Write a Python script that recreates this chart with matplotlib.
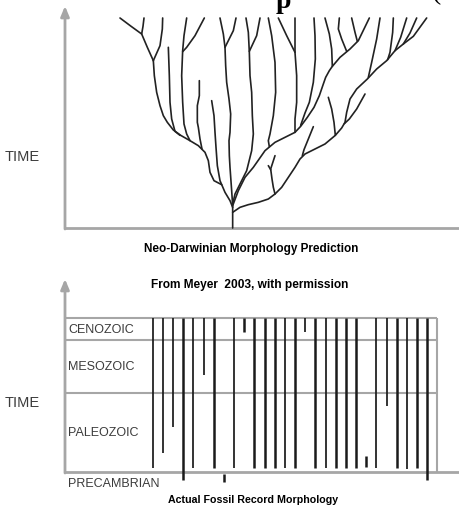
import matplotlib
matplotlib.use('Agg')
import matplotlib.pyplot as plt

# ---------------- DATA ----------------
# Top panel: predicted branching tree, each path is (morphology, time) points
left_clade = [
    [(180, 630), (212, 606), (245, 582), (262, 542), (280, 502)],
    [(252, 630), (249, 605), (245, 582)],
    [(308, 630), (307, 597), (300, 547), (280, 502)],
    [(280, 502), (283, 457), (290, 407), (300, 367), (310, 337), (322, 317), (340, 294),
     (362, 278), (390, 262), (415, 247), (435, 227), (445, 202), (450, 167), (462, 142), (485, 130)],
    [(325, 542), (328, 457), (330, 377), (335, 327), (345, 290), (360, 278)],
    [(380, 630), (372, 577), (368, 532), (365, 457), (368, 377), (372, 312), (380, 282), (390, 262)],
    [(433, 630), (405, 577), (380, 542), (368, 529)],
    [(418, 442), (418, 397), (412, 367), (412, 317), (415, 302), (420, 267), (426, 237)],
    [(455, 382), (462, 337), (465, 287), (468, 242), (472, 187), (480, 142), (495, 107), (510, 82), (518, 62)],
]
central_clade = [
    [(480, 630), (490, 582), (495, 542), (497, 487), (500, 437), (507, 387), (512, 342), (510, 287),
     (507, 262), (508, 217), (510, 182), (515, 112), (518, 67), (518, 0)],
    [(528, 630), (520, 592), (505, 562), (495, 542)],
    [(558, 630), (565, 587), (568, 527), (570, 457), (575, 407), (577, 337), (580, 282), (575, 232),
     (560, 172), (540, 132), (525, 102), (518, 72)],
    [(600, 630), (590, 577), (568, 530)],
]
upper_right_clade = [
    [(518, 67), (535, 112), (555, 152), (580, 182), (615, 232), (645, 257), (675, 272), (705, 287),
     (722, 305), (742, 332), (762, 362), (778, 397), (790, 432), (797, 452), (808, 472), (817, 485),
     (840, 512), (870, 537), (895, 562), (928, 630)],
    [(625, 630), (635, 577), (645, 497), (647, 407), (640, 337), (630, 282), (625, 262), (628, 244)],
    [(655, 630), (680, 577), (705, 527)],
    [(705, 630), (705, 527), (710, 457), (710, 377), (705, 327), (705, 287)],
    [(762, 630), (765, 577), (766, 507), (760, 437), (748, 377), (735, 345), (722, 308)],
    [(795, 630), (808, 582), (815, 537), (817, 485)],
    [(838, 630), (835, 597), (845, 567), (860, 530)],
    [(875, 630), (885, 587), (892, 560)],
]
lower_right_clade = [
    [(518, 47), (540, 62), (565, 70), (595, 77), (625, 87), (645, 102), (665, 122), (685, 152), (705, 182),
     (720, 207), (735, 222), (765, 237), (795, 252), (826, 278), (845, 300), (855, 317), (860, 347),
     (870, 387), (890, 417), (922, 447), (950, 477), (980, 502), (1005, 532), (1030, 552), (1060, 575),
     (1100, 630)],
    [(1005, 532), (1022, 572), (1040, 630)],
    [(1030, 552), (1050, 585), (1070, 630)],
    [(960, 630), (950, 567), (935, 497), (925, 452)],
    [(1000, 630), (998, 587), (990, 527), (983, 505)],
    [(645, 217), (632, 177), (636, 147), (640, 122), (645, 102)],
    [(625, 187), (632, 175)],
    [(760, 304), (745, 267), (732, 235), (727, 217)],
    [(805, 392), (815, 357), (822, 317), (826, 278)],
    [(915, 402), (890, 357), (868, 327), (853, 313)],
]

# Bottom panel: fossil record ranges per lineage (time units, 0 = base of Cambrian)
lineage = list(range(28))
range_top = [154, 154, 154, 154, 154, 154, 154, -2, 154, 154, 154, 154, 154, 154,
             154, 154, 154, 154, 154, 154, 154, 16.3, 154, 154, 154, 154, 154, 154]
range_bottom = [4.5, 18.7, 45.3, -8, 4.5, 97, 4.5, -9.7, 4.5, 139.7, 4.5, 4.5, 4.5, 4.5,
                4.5, 140, 4.5, 4.5, 4.5, 4.5, 4.5, 4.7, 4.5, 66.3, 4.5, 3, 4.5, -8]
bar_heavy = [0, 0, 0, 1, 0, 0, 1, 1, 0, 1, 1, 1, 1, 0,
             1, 0, 1, 0, 1, 1, 1, 1, 0, 0, 1, 0, 1, 1]
era_names = ['CENOZOIC', 'MESOZOIC', 'PALEOZOIC', 'PRECAMBRIAN']
era_bounds = [154, 132.5, 79, 0, -22]

# ---------------- FIGURE ----------------
W, H = 459, 506
fig = plt.figure(figsize=(W / 100, H / 100), dpi=100)
fig.patch.set_facecolor('white')
SANS = ['Liberation Sans', 'DejaVu Sans']
GRAY = '#a6a6a6'
INK = '#222222'


def fx(px):
    return px / W


def fy(py):
    return 1 - py / H


# ---- top panel ----
ax1 = fig.add_axes([fx(65), fy(229), fx(460) - fx(65), fy(7) - fy(229)])
ax1.set_xlim(15, 1200)
ax1.set_ylim(0, 666)
ax1.axis('off')
ax1.plot([15, 1200], [0, 0], color=GRAY, lw=2.0, clip_on=False, solid_capstyle='butt', zorder=1)
ax1.annotate('', xy=(15, 666), xytext=(15, -3),
             arrowprops=dict(arrowstyle='-|>,head_length=0.6,head_width=0.25', color=GRAY, lw=2.0,
                             shrinkA=0, shrinkB=0), annotation_clip=False)
for clade in (left_clade, central_clade, upper_right_clade, lower_right_clade):
    for path in clade:
        xs = [p[0] for p in path]
        ys = [p[1] for p in path]
        ax1.plot(xs, ys, color=INK, lw=1.2, solid_capstyle='round', solid_joinstyle='round',
                 clip_on=False, zorder=2)

# ---- bottom panel ----
ax2 = fig.add_axes([fx(65), fy(490), fx(460) - fx(65), fy(280) - fy(490)])
x0, x1 = -8.623, 30.216
xbox = 27.95
ax2.set_xlim(x0, x1)
ax2.set_ylim(-17, 193)
ax2.axis('off')
ax2.hlines(era_bounds[:3], x0, xbox, color=GRAY, lw=1.5, zorder=1)
ax2.vlines(xbox, 0, era_bounds[0], color=GRAY, lw=1.5, zorder=1)
ax2.plot([x0, x1], [0, 0], color=GRAY, lw=2.0, clip_on=False, solid_capstyle='butt', zorder=1)
ax2.annotate('', xy=(x0, 193), xytext=(x0, -1),
             arrowprops=dict(arrowstyle='-|>,head_length=0.6,head_width=0.25', color=GRAY, lw=2.0,
                             shrinkA=0, shrinkB=0), annotation_clip=False)
widths = [1.8 if h else 1.25 for h in bar_heavy]
ax2.vlines(lineage, range_bottom, range_top, colors='#1a1a1a', linewidths=widths, zorder=3,
           capstyle='butt')
for name, hi, lo in zip(era_names, era_bounds[:-1], era_bounds[1:]):
    ax2.text(x0 + 0.29, (hi + lo) / 2, name, ha='left', va='center', fontsize=9.0,
             color='#3c3c3c', family=SANS)

# ---- texts ----
fig.text(fx(5), fy(157), 'TIME', ha='left', va='center', fontsize=10.5, color='#3c3c3c', family=SANS)
fig.text(fx(5), fy(403), 'TIME', ha='left', va='center', fontsize=10.5, color='#3c3c3c', family=SANS)
fig.text(fx(251), fy(249), 'Neo-Darwinian Morphology Prediction', ha='center', va='center',
         fontsize=8.5, weight='bold', family=SANS)
fig.text(fx(250), fy(285), 'From Meyer  2003, with permission', ha='center', va='center',
         fontsize=8.6, weight='bold', family=SANS)
fig.text(fx(253), fy(500), 'Actual Fossil Record Morphology', ha='center', va='center',
         fontsize=7.7, weight='bold', family=SANS)
# cropped heading fragments at the very top (cut off in the reference as well)
fig.text(fx(283), fy(8), 'p', ha='center', va='baseline', fontsize=20, weight='bold',
         family=['Liberation Serif', 'DejaVu Serif'])
fig.text(fx(436), fy(-1), '(', ha='center', va='baseline', fontsize=20,
         family=['Liberation Serif', 'DejaVu Serif'])

fig.savefig('out.png', dpi=100, facecolor='white')
